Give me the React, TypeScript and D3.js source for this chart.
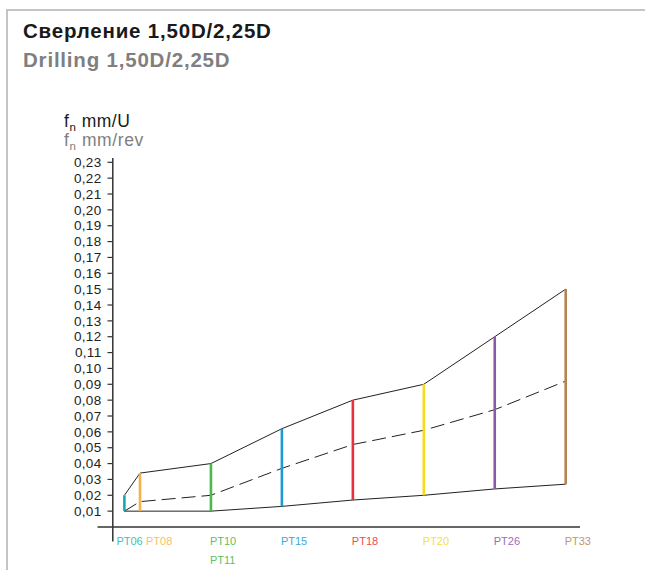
import React from "react";
import * as d3 from "d3";

const categories = ["PT06", "PT08", "PT10", "PT15", "PT18", "PT20", "PT26", "PT33"];
const subLabels = ["", "", "PT11", "", "", "", "", ""];
const maxFeed = [0.02, 0.034, 0.04, 0.062, 0.08, 0.09, 0.12, 0.15];
const minFeed = [0.01, 0.01, 0.01, 0.013, 0.017, 0.02, 0.024, 0.027];
const midFeed = [0.01, 0.016, 0.02, 0.037, 0.052, 0.061, 0.074, 0.092];
const barColors = ["#17a9ab", "#f7b04b", "#4db848", "#1d9bd0", "#e8323a", "#f4dc1a", "#8c58a7", "#b5844f"];
const labelColors = ["#40c0c2", "#fbc060", "#62c05e", "#3aa9db", "#ee4a50", "#f5e040", "#9b6cb6", "#c4966a"];
const yTicks = d3.range(1, 24).map((i) => i / 100);
const titleRu = "Сверление 1,50D/2,25D";
const titleEn = "Drilling 1,50D/2,25D";

const W = 645;
const H = 570;
const FONT = "'Liberation Sans', Arial, Helvetica, sans-serif";

export default function App() {
  const y = d3.scaleLinear().domain([0, 0.23]).range([527, 162.3]);
  const groups = categories.slice(1);
  const xp = d3.scalePoint<string>().domain(groups).range([140, 565.7]);
  const step = xp.step();
  const xOf = (c: string, i: number) => (i === 0 ? (xp(groups[0]) as number) - step * 0.22 : (xp(c) as number));
  const xs = categories.map((c, i) => xOf(c, i));

  const line = d3
    .line<number>()
    .x((_, i) => xs[i])
    .y((d) => y(d));

  const fmt = (v: number) => d3.format(".2f")(v).replace(".", ",");

  const labelDx = (i: number) => (i === 0 ? -8 : i === 1 ? 6 : -1);

  return (
    <svg
      width={W}
      height={H}
      viewBox={`0 0 ${W} ${H}`}
      style={{ position: "absolute", left: 0, top: 0, background: "#fff" }}
      fontFamily={FONT}
    >
      {/* frame */}
      <line x1={6} x2={W} y1={10} y2={10} stroke="#c4c4c4" strokeWidth={2} />
      <line x1={7} x2={7} y1={9} y2={H} stroke="#c4c4c4" strokeWidth={2} />

      {/* titles */}
      <text x={23} y={38} fontSize={20.5} fontWeight="bold" fill="#1a1a1a" letterSpacing={0.8}>
        {titleRu}
      </text>
      <text x={23} y={67} fontSize={20.5} fontWeight="bold" fill="#7f7f7f" letterSpacing={0.8}>
        {titleEn}
      </text>

      {/* axis unit labels */}
      <text x={64} y={127} fontSize={17.5} fill="#1a1a1a" letterSpacing={0.5}>
        f<tspan fontSize={11.5} dy={4}>n</tspan>
        <tspan dy={-4}> mm/U</tspan>
      </text>
      <text x={64} y={146} fontSize={17.5} fill="#808080" letterSpacing={0.6}>
        f<tspan fontSize={11.5} dy={4}>n</tspan>
        <tspan dy={-4}> mm/rev</tspan>
      </text>

      {/* y axis */}
      <line x1={112.8} x2={112.8} y1={158} y2={541.5} stroke="#333" strokeWidth={1.5} />
      {yTicks.map((t) => (
        <g key={t}>
          <line x1={107.5} x2={112.8} y1={y(t)} y2={y(t)} stroke="#333" strokeWidth={1.2} />
          <text x={101.5} y={y(t)} dy="0.35em" textAnchor="end" fontSize={13.5} fill="#222" letterSpacing={0.3}>
            {fmt(t)}
          </text>
        </g>
      ))}

      {/* x axis */}
      <line x1={97.5} x2={580} y1={y(0)} y2={y(0)} stroke="#333" strokeWidth={1.5} />

      {/* envelope lines */}
      <path d={line(maxFeed) || ""} fill="none" stroke="#222" strokeWidth={1} />
      <path d={line(minFeed) || ""} fill="none" stroke="#222" strokeWidth={1} />
      <path d={line(midFeed) || ""} fill="none" stroke="#222" strokeWidth={1} strokeDasharray="14 6" />

      {/* bars */}
      {categories.map((c, i) => (
        <line
          key={c}
          x1={xs[i]}
          x2={xs[i]}
          y1={y(minFeed[i])}
          y2={y(maxFeed[i])}
          stroke={barColors[i]}
          strokeWidth={2.6}
        />
      ))}

      {/* category labels */}
      {categories.map((c, i) => (
        <g key={c + "l"}>
          <text x={xs[i] + labelDx(i)} y={545} fontSize={11} fill={labelColors[i]}>
            {c}
          </text>
          {subLabels[i] && (
            <text x={xs[i] + labelDx(i)} y={563.5} fontSize={11} fill={labelColors[i]}>
              {subLabels[i]}
            </text>
          )}
        </g>
      ))}
    </svg>
  );
}
